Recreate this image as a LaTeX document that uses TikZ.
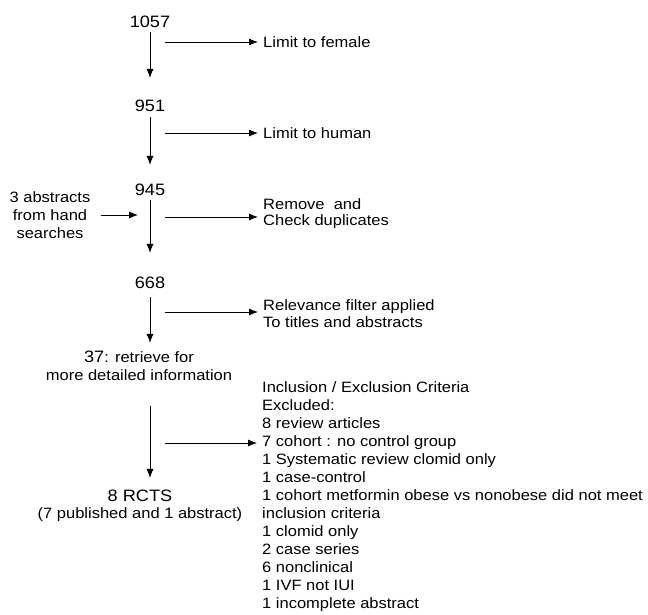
\documentclass[tikz,border=0pt]{standalone}
\usepackage{fontspec}
\setmainfont{Liberation Sans}[FakeStretch=1.1]
\usetikzlibrary{arrows.meta}
\begin{document}
\begin{tikzpicture}[x=1pt,y=-1pt,
  txt/.style={inner sep=0pt, font=\fontsize{15}{18}\selectfont},
  num/.style={inner sep=0pt, font=\fontsize{16.5}{18}\selectfont},
  arr/.style={-{Latex[length=9pt,width=7pt]}, line width=1pt},
  side/.style={arr, line width=0.8pt, shorten >=5pt}]
\fill[white] (0,0) rectangle (648,615);
\useasboundingbox (0,0) rectangle (648,615);

% main column of counts
\node[num] (n1057) at (150,22) {1057};
\node[num] (n951) at (150,106) {951};
\node[num] (n945) at (150,190) {945};
\node[num] (n668) at (150,283) {668};
\node[txt, align=center] (n37) at (139,366)
  {{\fontsize{16.5}{18}\selectfont 37}: retrieve for\\more detailed information};
\node[txt, align=center, font=\fontsize{15}{17}\selectfont] (rct) at (140,506)
  {{\fontsize{16.5}{18}\selectfont 8 RCTS}\\(7 published and 1 abstract)};

% downward arrows
\draw[arr, shorten <=4pt, shorten >=22pt] (n1057) -- (n951);
\draw[arr, shorten <=5pt, shorten >=19pt] (n951) -- (n945);
\draw[arr, shorten <=4pt, shorten >=24pt] (n945) -- (n668);
\draw[arr, shorten <=8pt, shorten >=8pt] (n668) -- (n668 |- n37.north);
\draw[arr, shorten <=25pt, shorten >=12pt] (n37.south -| n668) -- (rct.north -| n668);

% side steps
\node[txt, anchor=west] (lim1) at (263,42) {Limit to female};
\node[txt, anchor=west] (lim2) at (263,133) {Limit to human};
\node[txt, anchor=west, align=left, font=\fontsize{15}{16}\selectfont] (dup) at (263,214)
  {Remove\ \ and\\Check duplicates};
\node[txt, anchor=west, align=left, font=\fontsize{15}{17}\selectfont] (rel) at (263,314)
  {Relevance filter applied\\To titles and abstracts};
\node[txt, anchor=north west, align=left] (excl) at (262,381)
  {Inclusion / Exclusion Criteria\\
   Excluded:\\
   8 review articles\\
   7 cohort : no control group\\
   1 Systematic review clomid only\\
   1 case-control\\
   1 cohort metformin obese vs nonobese did not meet\\
   inclusion criteria\\
   1 clomid only\\
   2 case series\\
   6 nonclinical\\
   1 IVF not IUI\\
   1 incomplete abstract};
\node[txt, align=center] (hand) at (50,215) {3 abstracts\\from hand\\searches};

\coordinate (s1) at (165,42);
\coordinate (s2) at (165,133);
\coordinate (s3) at (165,217);
\coordinate (s4) at (165,312);
\coordinate (s5) at (165,443);
\draw[side] (s1) -- (s1 -| lim1.west);
\draw[side] (s2) -- (s2 -| lim2.west);
\draw[side] (s3) -- (s3 -| dup.west);
\draw[side] (s4) -- (s4 -| rel.west);
\draw[side] (s5) -- (s5 -| excl.west);
\draw[arr, line width=0.8pt, shorten <=10pt, shorten >=12pt] (hand.east) -- (hand.east -| n945);
\end{tikzpicture}
\end{document}
